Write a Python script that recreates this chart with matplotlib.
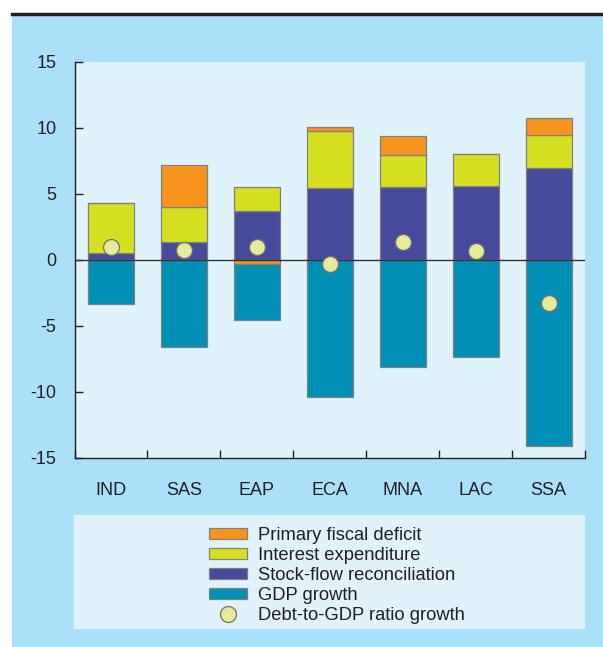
import numpy as np
import matplotlib.pyplot as plt
from matplotlib.patches import Rectangle, Patch
from matplotlib.lines import Line2D

plt.rcParams['font.family'] = ['Liberation Sans', 'DejaVu Sans']

# =================== Data ===================
regions = ['IND', 'SAS', 'EAP', 'ECA', 'MNA', 'LAC', 'SSA']
primary_deficit = [0.0, 3.2, -0.3, 0.3, 1.45, 0.0, 1.3]
interest_exp = [3.8, 2.6, 1.8, 4.35, 2.45, 2.45, 2.5]
stock_flow = [0.5, 1.4, 3.75, 5.45, 5.5, 5.6, 6.95]
gdp_growth = [-3.3, -6.6, -4.25, -10.4, -8.1, -7.35, -14.1]
debt_ratio_growth = [1.0, 0.75, 1.0, -0.3, 1.4, 0.7, -3.25]

series = [
    ('Stock-flow reconciliation', stock_flow, '#464a9b'),
    ('Interest expenditure', interest_exp, '#d7df21'),
    ('Primary fiscal deficit', primary_deficit, '#f7941d'),
    ('GDP growth', gdp_growth, '#0090b6'),
]

OUTER = '#abe0f9'
INNER = '#e0f3fb'
TXT = '#231f20'
EDGE = '#808080'

fig = plt.figure(figsize=(6.03, 6.47), dpi=100)
fig.patch.set_facecolor('white')

# blue panel + rule on top
fig.patches.append(Rectangle((12 / 603, 0), 1, 1 - 15 / 647, transform=fig.transFigure,
                             facecolor=OUTER, edgecolor='none', zorder=-3))
fig.add_artist(Line2D([12 / 603, 1], [1 - 14 / 647] * 2, transform=fig.transFigure,
                      color=TXT, lw=2.5, zorder=-2))

ax = fig.add_axes([74.5 / 603, 1 - 458 / 647, (585 - 74.5) / 603, 396 / 647])
ax.set_facecolor(INNER)

x = np.arange(len(regions))
pos = np.zeros(len(regions))
neg = np.zeros(len(regions))
for name, vals, col in series:
    vals = np.array(vals)
    base = np.where(vals >= 0, pos, neg)
    ax.bar(x, vals, 0.63, bottom=base, color=col, edgecolor=EDGE, linewidth=0.9, zorder=2)
    pos += np.where(vals >= 0, vals, 0)
    neg += np.where(vals < 0, vals, 0)

ax.axhline(0, color='#333333', lw=1.0, zorder=3)
ax.plot(x, debt_ratio_growth, 'o', ms=11.5, mfc='#e6ea9a', mec='#707070', mew=0.9,
        zorder=4, ls='none')

ax.set_xlim(-0.5, len(regions) - 0.5)
ax.set_ylim(-15, 15)
ax.set_yticks([-15, -10, -5, 0, 5, 10, 15])
ax.set_yticklabels(['-15', '-10', '-5', '0', '5', '10', '15'])
ax.set_xticks(x)
ax.set_xticklabels(regions)
ax.set_xticks(np.arange(-0.5, len(regions)), minor=True)
ax.tick_params(axis='y', direction='in', length=6, width=1, color=TXT,
               labelsize=13, labelcolor=TXT, pad=13)
ax.tick_params(axis='x', which='major', length=0, labelsize=13, labelcolor=TXT, pad=17)
ax.tick_params(axis='x', which='minor', direction='in', length=6, width=1, color=TXT)
for s in ['top', 'right']:
    ax.spines[s].set_visible(False)
for s in ['left', 'bottom']:
    ax.spines[s].set_color(TXT)
    ax.spines[s].set_linewidth(1.0)

# legend panel
fig.patches.append(Rectangle((74 / 603, 1 - 629 / 647), (585 - 74) / 603, 114 / 647,
                             transform=fig.transFigure, facecolor=INNER,
                             edgecolor='none', zorder=-1))
handles = [
    Patch(facecolor='#f7941d', edgecolor=EDGE, lw=0.9),
    Patch(facecolor='#d7df21', edgecolor=EDGE, lw=0.9),
    Patch(facecolor='#464a9b', edgecolor=EDGE, lw=0.9),
    Patch(facecolor='#0090b6', edgecolor=EDGE, lw=0.9),
    Line2D([], [], marker='o', ls='none', ms=11.5, mfc='#e6ea9a', mec='#707070', mew=0.9),
]
labels = ['Primary fiscal deficit', 'Interest expenditure', 'Stock-flow reconciliation',
          'GDP growth', 'Debt-to-GDP ratio growth']
leg = fig.legend(handles, labels, loc='upper left', bbox_to_anchor=(209 / 603, 1 - 527 / 647),
                 frameon=False, fontsize=13.2, handlelength=2.07, handleheight=0.6,
                 handletextpad=0.6, labelspacing=0.16, borderpad=0, borderaxespad=0)
for t in leg.get_texts():
    t.set_color(TXT)

fig.savefig('out.png', dpi=100, facecolor=fig.get_facecolor())
